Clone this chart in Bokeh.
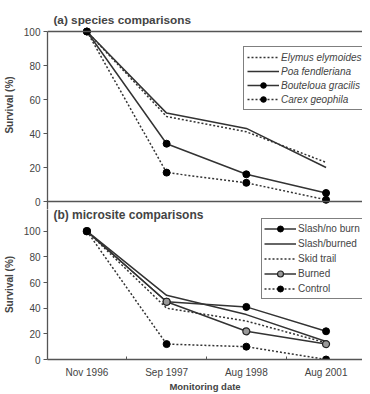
from bokeh.plotting import figure
from bokeh.layouts import column
from bokeh.models import Range1d, FixedTicker, Span, Label, Legend, LegendItem
from bokeh.embed import file_html
from bokeh.resources import INLINE

dates = ["Nov 1996", "Sep 1997", "Aug 1998", "Aug 2001"]
xs = [0, 1, 2, 3]
yticks = [0, 20, 40, 60, 80, 100]

# (a) species comparisons
elymus = [100, 50, 41, 23]
poa = [100, 52, 43, 20]
bouteloua = [100, 34, 16, 5]
carex = [100, 17, 11, 1]

# (b) microsite comparisons
slash_no_burn = [100, 45, 41, 22]
slash_burned = [100, 50, 35, 14]
skid_trail = [100, 40, 30, 13]
burned = [100, 45, 22, 12]
control = [100, 12, 10, 0]

FONT = "Liberation Sans"
LC = "#333333"
AX = "#555555"
XR = (-0.494, 3.457)
Y1 = (-4.706, 118.24)
Y2 = (0, 116.92)


def style(p, bounds):
    p.outline_line_color = None
    p.grid.visible = False
    p.background_fill_alpha = 0
    p.border_fill_alpha = 0
    ya = p.yaxis[0]
    ya.ticker = FixedTicker(ticks=yticks)
    ya.bounds = bounds
    ya.axis_label = "Survival (%)"
    ya.axis_label_text_font = FONT
    ya.axis_label_text_font_size = "10px"
    ya.axis_label_text_font_style = "bold"
    ya.axis_label_standoff = 6
    ya.major_label_text_font = FONT
    ya.major_label_text_font_size = "10px"
    ya.major_label_standoff = 3
    ya.major_tick_out = 4
    ya.major_tick_in = 0
    ya.minor_tick_line_color = None
    ya.axis_line_color = AX
    ya.axis_line_width = 1.3
    ya.major_tick_line_color = AX


def style_legend(leg, italic, lh, pad):
    leg.label_text_font = FONT
    leg.label_text_font_size = "10px"
    if italic:
        leg.label_text_font_style = "italic"
    leg.label_height = lh
    leg.glyph_height = lh
    leg.glyph_width = 32
    leg.label_standoff = 2
    leg.spacing = 0
    leg.padding = pad
    leg.margin = 0
    leg.border_line_color = "black"
    leg.border_line_width = 1
    leg.background_fill_color = "white"
    leg.background_fill_alpha = 1


# ---------- top panel ----------
p1 = figure(width=362, height=209, output_backend="svg", toolbar_location=None,
            x_range=Range1d(*XR), y_range=Range1d(*Y1), x_axis_location=None,
            min_border_left=42, min_border_right=0, min_border_bottom=0,
            min_border_top=0)
style(p1, (Y1[0], 100))
p1.add_layout(Span(location=100, dimension="width", line_color=AX, line_width=1.3))
p1.add_layout(Span(location=0, dimension="width", line_color=AX, line_width=1.3))
p1.add_layout(Label(x=-0.42, y=107.06, text="(a) species comparisons",
                    text_font=FONT, text_font_size="11.8px", text_font_style="bold",
                    text_baseline="middle"))

r_ely = p1.line(xs, elymus, line_color=LC, line_width=1.5, line_dash="2 2")
r_poa = p1.line(xs, poa, line_color=LC, line_width=1.5)
r_bou = p1.line(xs, bouteloua, line_color=LC, line_width=1.5)
s_bou = p1.scatter(xs, bouteloua, size=7, fill_color="black", line_color="black")
r_car = p1.line(xs, carex, line_color=LC, line_width=1.5, line_dash="2 2")
s_car = p1.scatter(xs, carex, size=7, fill_color="black", line_color="black")

leg1 = Legend(items=[
    LegendItem(label="Elymus elymoides", renderers=[r_ely]),
    LegendItem(label="Poa fendleriana", renderers=[r_poa]),
    LegendItem(label="Bouteloua gracilis", renderers=[r_bou, s_bou]),
    LegendItem(label="Carex geophila", renderers=[r_car, s_car]),
], location=(196, 99))
style_legend(leg1, True, 14, 3)
p1.add_layout(leg1, "center")

# ---------- bottom panel ----------
p2 = figure(width=362, height=185, output_backend="svg", toolbar_location=None,
            x_range=Range1d(*XR), y_range=Range1d(*Y2),
            min_border_left=42, min_border_right=0, min_border_bottom=0,
            min_border_top=0)
style(p2, (Y2[0], Y2[1]))
xa = p2.xaxis[0]
xa.ticker = FixedTicker(ticks=xs, minor_ticks=[0.5, 1.5, 2.5])
xa.major_label_overrides = {x: d for x, d in zip(xs, dates)}
xa.major_label_text_font = FONT
xa.major_label_text_font_size = "10px"
xa.major_label_text_line_height = 1.0
xa.major_label_standoff = 7
xa.major_tick_in = 0
xa.major_tick_out = 0
xa.minor_tick_in = 3
xa.minor_tick_out = 0
xa.minor_tick_line_color = AX
xa.axis_line_color = AX
xa.axis_line_width = 1.3
xa.axis_label = "Monitoring date"
xa.axis_label_text_font = FONT
xa.axis_label_text_font_size = "9.5px"
xa.axis_label_text_font_style = "bold"
xa.axis_label_text_line_height = 1.0
xa.axis_label_standoff = 0
p2.add_layout(Label(x=-0.42, y=112.3, text="(b) microsite comparisons",
                    text_font=FONT, text_font_size="12px", text_font_style="bold",
                    text_baseline="middle"))

r_snb = p2.line(xs, slash_no_burn, line_color=LC, line_width=1.5)
s_snb = p2.scatter(xs, slash_no_burn, size=7, fill_color="black", line_color="black")
r_sb = p2.line(xs, slash_burned, line_color=LC, line_width=1.5)
r_sk = p2.line(xs, skid_trail, line_color=LC, line_width=1.5, line_dash="2 2")
r_bu = p2.line(xs, burned, line_color=LC, line_width=1.5)
s_bu = p2.scatter(xs, burned, size=7, fill_color="#999999", line_color="#222222", line_width=1.2)
r_co = p2.line(xs, control, line_color=LC, line_width=1.5, line_dash="2 2")
s_co = p2.scatter(xs, control, size=7, fill_color="black", line_color="black")

leg2 = Legend(items=[
    LegendItem(label="Slash/no burn", renderers=[r_snb, s_snb]),
    LegendItem(label="Slash/burned", renderers=[r_sb]),
    LegendItem(label="Skid trail", renderers=[r_sk]),
    LegendItem(label="Burned", renderers=[r_bu, s_bu]),
    LegendItem(label="Control", renderers=[r_co, s_co]),
], location=(214, 60))
style_legend(leg2, False, 15, 2)
p2.add_layout(leg2, "center")

layout = column(p1, p2, spacing=0)
open("out.html", "w").write(file_html(layout, INLINE))
